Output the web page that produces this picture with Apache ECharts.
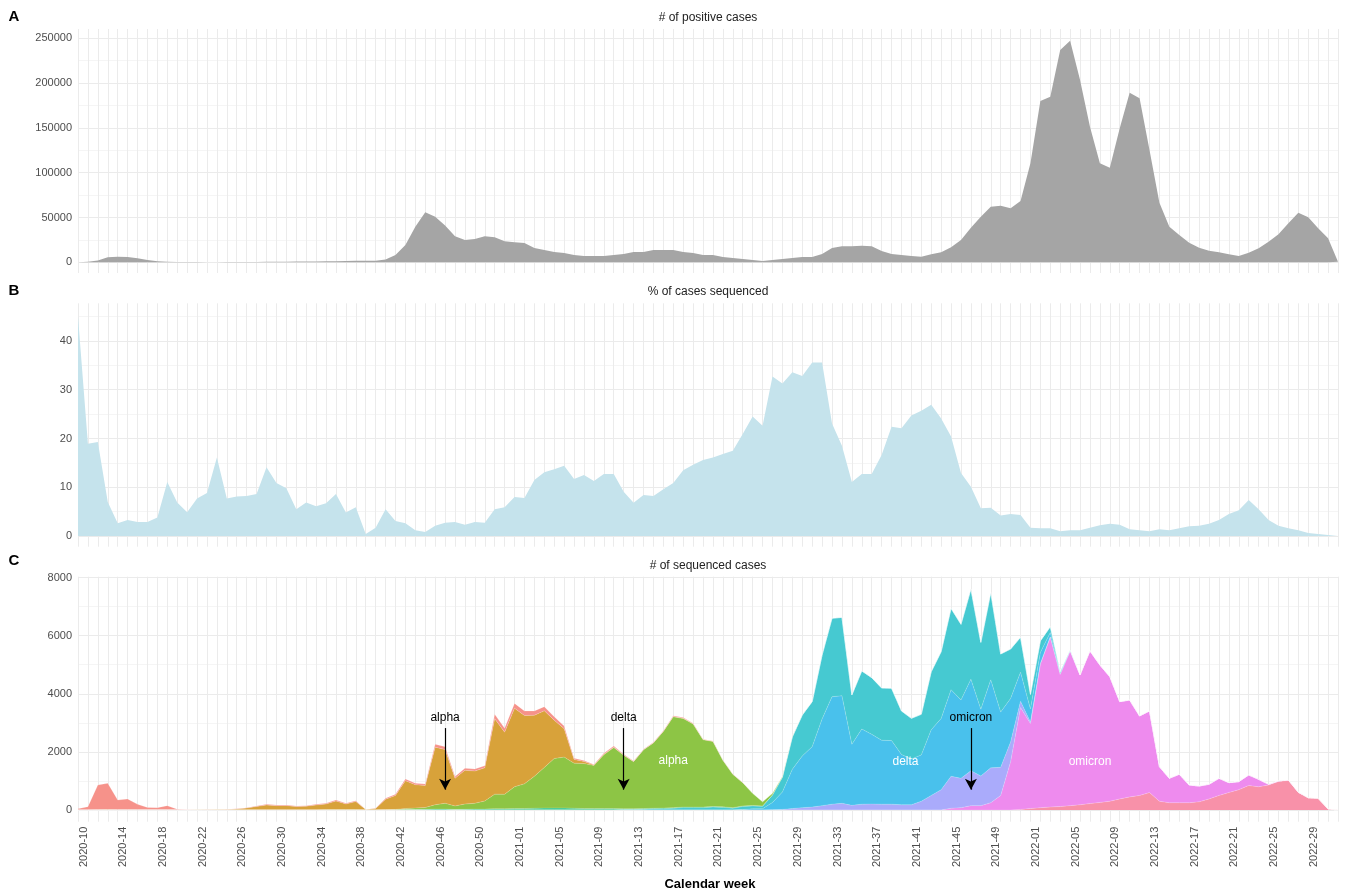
<!DOCTYPE html>
<html>
<head>
<meta charset="utf-8">
<title>Cases and sequencing</title>
<script src="https://cdn.jsdelivr.net/npm/echarts@6/dist/echarts.min.js"></script>
<style>
  html, body { margin: 0; padding: 0; background: #fff; }
  #chart { width: 1350px; height: 891px; }
</style>
</head>
<body>
<div id="chart"></div>
<script>
// weekly values, 2020-10 .. 2022-32
const positiveCases = [
  0, 500, 2000, 5500, 6200, 6000, 4500, 2500, 1200, 700, 400, 300, 200, 150, 150, 200,
  250, 300, 400, 500, 600, 700, 800, 900, 1000, 1100, 1300, 1500, 1600, 1700, 1800, 3000,
  8100, 19300, 39700, 56000, 50900, 41000, 29000, 25000, 26000, 29000, 28000, 23500, 22500, 21500, 16000, 13700,
  11500, 10400, 8100, 7000, 7000, 7000, 8100, 9200, 11500, 11500, 13700, 13700, 13700, 11500, 10400, 8100,
  8100, 5900, 4800, 3700, 2600, 1500, 2600, 3700, 4800, 5900, 5900, 9200, 16000, 18000, 18000, 18500,
  18000, 12600, 9200, 8100, 7000, 6300, 8900, 11200, 16700, 24900, 38600, 50900, 62000, 63200, 60300, 68400,
  110500, 180000, 184800, 237000, 247300, 203400, 151300, 110500, 105600, 149500, 189300, 183000, 125300, 66500, 39700, 30500,
  21900, 16300, 12900, 11200, 8900, 7000, 10700, 15600, 23000, 31200, 43500, 55400, 50200, 37900, 26800, 700
];

const pctSequenced = [
  45.0, 18.9, 19.3, 7.0, 2.6, 3.3, 2.9, 2.9, 3.8, 11.1, 6.9, 4.9, 7.7, 8.8, 16.1, 7.7,
  8.1, 8.2, 8.6, 14.1, 10.9, 9.8, 5.5, 6.9, 6.1, 6.7, 8.6, 4.8, 5.9, 0.4, 1.7, 5.5,
  3.1, 2.6, 1.2, 0.8, 2.1, 2.7, 2.9, 2.3, 2.9, 2.7, 5.5, 5.9, 8.0, 7.8, 11.5, 13.1,
  13.7, 14.4, 11.7, 12.5, 11.3, 12.7, 12.7, 9.1, 6.8, 8.4, 8.2, 9.6, 10.9, 13.5, 14.6, 15.6,
  16.1, 16.8, 17.5, 20.9, 24.5, 22.6, 32.7, 31.3, 33.6, 32.8, 35.6, 35.6, 23.1, 18.5, 11.1, 12.7,
  12.7, 16.6, 22.4, 22.1, 24.7, 25.7, 26.9, 24.1, 20.4, 12.9, 10.1, 5.7, 5.8, 4.2, 4.5, 4.3,
  1.7, 1.6, 1.6, 1.0, 1.2, 1.2, 1.7, 2.2, 2.5, 2.3, 1.4, 1.2, 1.0, 1.4, 1.2, 1.6,
  2.0, 2.1, 2.5, 3.3, 4.5, 5.3, 7.4, 5.5, 3.3, 2.1, 1.6, 1.2, 0.6, 0.4, 0.2, 0.0
];

// sequenced cases per lineage group (stack order: first = bottom)
const seqBA5 = [
  0, 0, 0, 0, 0, 0, 0, 0, 0, 0, 0, 0, 0, 0, 0, 0,
  0, 0, 0, 0, 0, 0, 0, 0, 0, 0, 0, 0, 0, 0, 0, 0,
  0, 0, 0, 0, 0, 0, 0, 0, 0, 0, 0, 0, 0, 0, 0, 0,
  0, 0, 0, 0, 0, 0, 0, 0, 0, 0, 0, 0, 0, 0, 0, 0,
  0, 0, 0, 0, 0, 0, 0, 0, 0, 0, 0, 0, 0, 0, 0, 0,
  0, 0, 0, 0, 0, 0, 0, 0, 0, 0, 0, 0, 0, 0, 0, 20,
  50, 80, 100, 120, 150, 180, 220, 260, 300, 380, 450, 500, 600, 300, 250, 250,
  250, 280, 380, 500, 600, 700, 840, 800, 860, 980, 1020, 600, 420, 400, 35, 0
];
const seqOmicron = [
  0, 0, 0, 0, 0, 0, 0, 0, 0, 0, 0, 0, 0, 0, 0, 0,
  0, 0, 0, 0, 0, 0, 0, 0, 0, 0, 0, 0, 0, 0, 0, 0,
  0, 0, 0, 0, 0, 0, 0, 0, 0, 0, 0, 0, 0, 0, 0, 0,
  0, 0, 0, 0, 0, 0, 0, 0, 0, 0, 0, 0, 0, 0, 0, 0,
  0, 0, 0, 0, 0, 0, 0, 0, 0, 0, 0, 0, 0, 0, 0, 0,
  0, 0, 0, 0, 0, 0, 0, 0, 60, 80, 150, 150, 250, 500, 1660, 3510,
  2925, 4940, 5850, 4550, 5320, 4470, 5255, 4730, 4290, 3350, 3335, 2735, 2810, 1190, 840, 980,
  610, 545, 505, 590, 340, 275, 365, 255, 25, 20, 10, 10, 0, 0, 0, 0
];
const seqMixed = [
  0, 0, 0, 0, 0, 0, 0, 0, 0, 0, 0, 0, 0, 0, 0, 0,
  0, 0, 0, 0, 0, 0, 0, 0, 0, 0, 0, 0, 0, 0, 0, 0,
  0, 0, 0, 0, 0, 0, 0, 0, 0, 0, 0, 0, 0, 0, 0, 0,
  0, 0, 0, 0, 0, 0, 0, 0, 0, 0, 0, 0, 0, 0, 0, 0,
  0, 0, 0, 0, 0, 0, 10, 20, 50, 80, 100, 150, 200, 230, 160, 200,
  205, 200, 200, 180, 180, 300, 500, 700, 1100, 1010, 1200, 1020, 1200, 970, 680, 215,
  50, 20, 10, 0, 0, 0, 0, 0, 0, 0, 0, 0, 0, 0, 0, 0,
  0, 0, 0, 0, 0, 0, 0, 0, 0, 0, 0, 0, 0, 0, 0, 0
];
const seqDeltaAY = [
  0, 0, 0, 0, 0, 0, 0, 0, 0, 0, 0, 0, 0, 0, 0, 0,
  0, 0, 0, 0, 0, 0, 0, 0, 0, 0, 0, 0, 0, 0, 0, 0,
  0, 0, 0, 0, 0, 0, 0, 0, 0, 0, 0, 0, 0, 0, 0, 0,
  0, 0, 0, 0, 0, 0, 0, 0, 0, 0, 0, 0, 0, 0, 0, 0,
  0, 0, 0, 20, 40, 45, 250, 600, 1350, 1780, 2080, 2985, 3700, 3700, 2100, 2585,
  2400, 2200, 2190, 1730, 1575, 1595, 2260, 2450, 2980, 2700, 3150, 2300, 3030, 1900, 1500, 1000,
  455, 380, 150, 40, 20, 0, 0, 0, 0, 0, 0, 0, 0, 0, 0, 0,
  0, 0, 0, 0, 0, 0, 0, 0, 0, 0, 0, 0, 0, 0, 0, 0
];
const seqDelta = [
  0, 0, 0, 0, 0, 0, 0, 0, 0, 0, 0, 0, 0, 0, 0, 0,
  0, 0, 0, 0, 0, 0, 0, 0, 0, 0, 0, 0, 0, 0, 0, 0,
  0, 0, 0, 0, 0, 0, 0, 0, 0, 0, 0, 0, 0, 0, 0, 0,
  0, 0, 0, 0, 0, 0, 0, 15, 20, 25, 40, 45, 60, 80, 80, 80,
  100, 90, 60, 100, 100, 80, 250, 500, 1100, 1400, 1550, 2200, 2700, 2700, 1700, 2000,
  1950, 1800, 1800, 1500, 1400, 1400, 2000, 2300, 2800, 2600, 3100, 2300, 3000, 2000, 1700, 1200,
  500, 400, 200, 50, 20, 0, 0, 0, 0, 0, 0, 0, 0, 0, 0, 0,
  0, 0, 0, 0, 0, 0, 0, 0, 0, 0, 0, 0, 0, 0, 0, 0
];
const seqOtherVOC = [
  0, 0, 0, 0, 0, 0, 0, 0, 0, 0, 0, 0, 0, 0, 0, 0,
  0, 0, 0, 0, 0, 0, 0, 0, 0, 0, 0, 0, 0, 0, 0, 0,
  0, 20, 20, 25, 30, 30, 20, 25, 30, 30, 45, 40, 50, 50, 60, 65,
  70, 70, 60, 50, 50, 50, 50, 30, 25, 25, 20, 20, 20, 20, 20, 20,
  20, 20, 20, 20, 15, 10, 5, 10, 15, 10, 0, 0, 0, 0, 0, 0,
  0, 0, 0, 0, 0, 0, 0, 0, 0, 0, 0, 0, 0, 0, 0, 0,
  0, 0, 0, 0, 0, 0, 0, 0, 0, 0, 0, 0, 0, 0, 0, 0,
  0, 0, 0, 0, 0, 0, 0, 0, 0, 0, 0, 0, 0, 0, 0, 0
];
const seqAlpha = [
  0, 0, 0, 0, 0, 0, 0, 0, 0, 0, 0, 0, 0, 0, 0, 0,
  0, 0, 0, 0, 0, 0, 0, 0, 0, 5, 5, 5, 5, 0, 0, 10,
  20, 30, 50, 60, 150, 200, 120, 180, 200, 280, 500, 500, 750, 850, 1100, 1400,
  1700, 1750, 1550, 1550, 1480, 1850, 2100, 1840, 1620, 2020, 2250, 2640, 3130, 3050, 2860, 2320,
  2240, 1600, 1150, 800, 420, 150, 60, 20, 10, 0, 0, 0, 0, 0, 0, 0,
  0, 0, 0, 0, 0, 0, 0, 0, 0, 0, 0, 0, 0, 0, 0, 0,
  0, 0, 0, 0, 0, 0, 0, 0, 0, 0, 0, 0, 0, 0, 0, 0,
  0, 0, 0, 0, 0, 0, 0, 0, 0, 0, 0, 0, 0, 0, 0, 0
];
const seqPreAlpha = [
  0, 0, 10, 15, 10, 10, 5, 5, 5, 5, 3, 2, 5, 10, 15, 20,
  30, 65, 120, 170, 150, 150, 120, 130, 170, 200, 305, 200, 285, 15, 50, 360,
  480, 960, 800, 760, 1980, 1850, 950, 1160, 1110, 1140, 2600, 2140, 2700, 2350, 2100, 1950,
  1320, 980, 130, 70, 20, 20, 10, 10, 5, 5, 5, 5, 5, 5, 5, 5,
  5, 5, 0, 0, 0, 0, 0, 0, 0, 0, 0, 0, 0, 0, 0, 0,
  0, 0, 0, 0, 0, 0, 0, 0, 0, 0, 0, 0, 0, 0, 0, 0,
  0, 0, 0, 0, 0, 0, 0, 0, 0, 0, 0, 0, 0, 0, 0, 0,
  0, 0, 0, 0, 0, 0, 0, 0, 0, 0, 0, 0, 0, 0, 0, 0
];
const seqEarly = [
  40, 115, 850, 905, 335, 370, 190, 85, 75, 145, 22, 8, 5, 5, 5, 5,
  10, 15, 20, 25, 20, 20, 20, 20, 25, 25, 35, 25, 30, 5, 10, 30,
  40, 60, 50, 50, 100, 100, 60, 70, 70, 75, 150, 130, 170, 160, 150, 140,
  120, 90, 40, 30, 20, 30, 40, 20, 15, 15, 15, 20, 30, 25, 20, 10,
  10, 5, 5, 5, 0, 0, 0, 0, 0, 0, 0, 0, 0, 0, 0, 0,
  0, 0, 0, 0, 0, 0, 0, 0, 0, 0, 0, 0, 0, 0, 0, 0,
  0, 0, 0, 0, 0, 0, 0, 0, 0, 0, 0, 0, 0, 0, 0, 0,
  0, 0, 0, 0, 0, 0, 0, 0, 0, 0, 0, 0, 0, 0, 0, 0
];

const casesLabels = [0, 50000, 100000, 150000, 200000, 250000];
const casesGridLines = [0, 25000, 50000, 75000, 100000, 125000, 150000, 175000, 200000, 225000, 250000];
const pctLabels = [0, 10, 20, 30, 40];
const pctGridLines = [0, 5, 10, 15, 20, 25, 30, 35, 40, 45];
const seqLabels = [0, 2000, 4000, 6000, 8000];
const seqGridLines = [0, 1000, 2000, 3000, 4000, 5000, 6000, 7000, 8000];

// ISO weeks, 2020 has 53
const weeks = [];
(function () {
  const weeksInYear = { 2020: 53, 2021: 52, 2022: 52 };
  let yr = 2020, wk = 10;
  for (let i = 0; i < positiveCases.length; i++) {
    weeks.push(yr + '-' + String(wk).padStart(2, '0'));
    wk++;
    if (wk > weeksInYear[yr]) { yr++; wk = 1; }
  }
})();

const arrowNotes = ['alpha', 'delta', 'omicron'];
const arrowWeekIdx = [37, 55, 90];
const areaNotes = ['alpha', 'delta', 'omicron'];
const areaWeekIdx = [60, 83, 102];
const areaNoteValue = [1690, 1650, 1650];

const FONT = '"Liberation Sans", Arial, sans-serif';
const GRID_MAJOR = '#ebebeb';
const GRID_MINOR = '#f5f5f5';

function xAxisFor(gridIndex, showLabels) {
  return {
    type: 'category', gridIndex: gridIndex, data: weeks, boundaryGap: false,
    axisLine: { show: false }, axisTick: { show: false },
    axisLabel: showLabels ? {
      show: true, interval: 3, rotate: 90, margin: 5, verticalAlign: 'top',
      color: '#4d4d4d', fontSize: 11, fontFamily: FONT
    } : { show: false },
    splitLine: { show: true, interval: 0, lineStyle: { color: GRID_MAJOR, width: 1 } }
  };
}

function yAxisFor(gridIndex, min, max, labels, lines) {
  return {
    type: 'value', gridIndex: gridIndex, min: min, max: max,
    axisLine: { show: false },
    axisTick: { show: false, customValues: lines },
    axisLabel: {
      customValues: labels, color: '#4d4d4d', fontSize: 11, fontFamily: FONT, margin: 6,
      formatter: function (v) { return String(v); }
    },
    splitLine: { show: true, lineStyle: { color: [GRID_MAJOR, GRID_MINOR], width: 1 } }
  };
}

function stackSeries(name, data, color) {
  return {
    name: name, type: 'line', xAxisIndex: 2, yAxisIndex: 2, stack: 'seq',
    data: data, symbol: 'none', silent: true,
    lineStyle: { width: 0.6, color: 'rgba(255,255,255,0.3)' },
    areaStyle: { color: color, opacity: 1 }
  };
}

function textEl(text, x, y, font, color) {
  return {
    type: 'text', x: x, y: y, silent: true,
    style: { text: text, font: font, fill: color, align: 'center', verticalAlign: 'middle',
             textAlign: 'center', textVerticalAlign: 'middle' }
  };
}

const bottomSeries = stackSeries('BA.5', seqBA5, '#f891a9');
bottomSeries.markLine = {
  silent: true, symbol: ['none', 'arrow'], symbolSize: [9, 11], animation: false,
  lineStyle: { color: '#000', width: 1.2, type: 'solid' },
  label: { show: true, position: 'start', distance: 4, color: '#000', fontSize: 12, fontFamily: FONT,
           formatter: function (p) { return p.name; } },
  data: arrowNotes.map(function (n, k) {
    return [
      { name: n, coord: [weeks[arrowWeekIdx[k]], 2820] },
      { coord: [weeks[arrowWeekIdx[k]], 700] }
    ];
  })
};
bottomSeries.markPoint = {
  silent: true, symbol: 'circle', symbolSize: 0, animation: false,
  label: { show: true, position: 'inside', color: '#fff', fontSize: 12, fontFamily: FONT,
           formatter: function (p) { return p.name; } },
  data: areaNotes.map(function (n, k) {
    return { name: n, coord: [weeks[areaWeekIdx[k]], areaNoteValue[k]], label: { offset: k === 1 ? [4, 0] : [0, 0] } };
  })
};

const chart = echarts.init(document.getElementById('chart'));
chart.setOption({
  animation: false,
  backgroundColor: '#fff',
  textStyle: { fontFamily: FONT },
  grid: [
    { left: 78, right: 12, top: 29, height: 244 },
    { left: 78, right: 12, top: 303.3, height: 243.4 },
    { left: 78, right: 12, top: 576.7, height: 245 }
  ],
  xAxis: [xAxisFor(0, false), xAxisFor(1, false), xAxisFor(2, true)],
  yAxis: [
    yAxisFor(0, -11940, 260380, casesLabels, casesGridLines),
    yAxisFor(1, -2.19, 47.73, pctLabels, pctGridLines),
    yAxisFor(2, -403, 8031, seqLabels, seqGridLines)
  ],
  series: [
    {
      name: 'positive cases', type: 'line', xAxisIndex: 0, yAxisIndex: 0,
      data: positiveCases, symbol: 'none', silent: true,
      lineStyle: { width: 0 }, areaStyle: { color: '#a5a5a5', opacity: 1 }
    },
    {
      name: '% sequenced', type: 'line', xAxisIndex: 1, yAxisIndex: 1,
      data: pctSequenced, symbol: 'none', silent: true,
      lineStyle: { width: 0 }, areaStyle: { color: '#c5e3ec', opacity: 1 }
    },
    bottomSeries,
    stackSeries('omicron', seqOmicron, '#ee8bee'),
    stackSeries('mixed', seqMixed, '#aaabfb'),
    stackSeries('delta AY', seqDeltaAY, '#49c1ec'),
    stackSeries('delta', seqDelta, '#46c9d1'),
    stackSeries('other VOC', seqOtherVOC, '#3fc98e'),
    stackSeries('alpha', seqAlpha, '#8dc545'),
    stackSeries('pre-alpha', seqPreAlpha, '#d8a23a'),
    stackSeries('early', seqEarly, '#f6928a')
  ],
  graphic: [
    textEl('# of positive cases', 708, 18, '12px ' + FONT, '#222'),
    textEl('% of cases sequenced', 708, 292, '12px ' + FONT, '#222'),
    textEl('# of sequenced cases', 708, 566, '12px ' + FONT, '#222'),
    textEl('A', 14, 17, 'bold 15px ' + FONT, '#000'),
    textEl('B', 14, 291, 'bold 15px ' + FONT, '#000'),
    textEl('C', 14, 561, 'bold 15px ' + FONT, '#000'),
    textEl('Calendar week', 710, 884, 'bold 13px ' + FONT, '#000')
  ]
});
window.addEventListener('resize', function () { chart.resize(); });
</script>
</body>
</html>
